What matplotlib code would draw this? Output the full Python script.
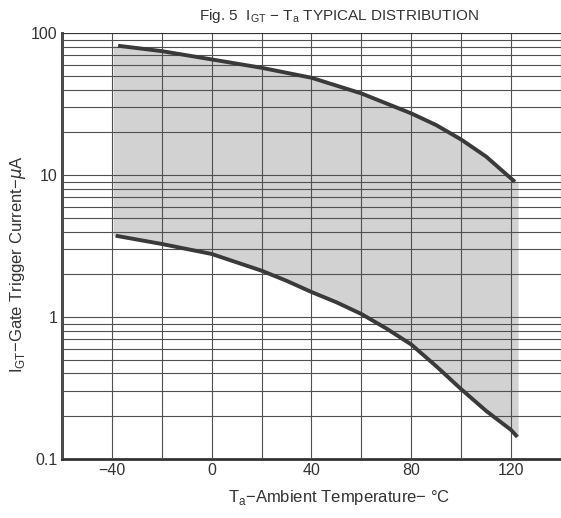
import numpy as np
import matplotlib.pyplot as plt
from matplotlib.ticker import FixedLocator, NullFormatter

plt.rcParams['font.family'] = ['Liberation Sans', 'DejaVu Sans']

# curve readings (deg C, uA)
temp_upper = [-37.5, -20, 0, 20, 40, 60, 80, 90, 100, 110, 121.5]
igt_upper = [81.5, 74.7, 65.3, 57, 48.5, 37.6, 27.2, 22.5, 17.8, 13.5, 8.97]

temp_lower = [-38.5, -20, 0, 20, 30, 40, 50, 60, 70, 80, 90, 100, 110, 120, 122.5]
igt_lower = [3.74, 3.27, 2.78, 2.12, 1.8, 1.5, 1.27, 1.05, 0.83, 0.64, 0.45, 0.31, 0.218, 0.16, 0.143]

x_ticks = [-40, 0, 40, 80, 120]
x_ticklabels = ['\u221240', '0', '40', '80', '120']
y_ticks = [0.1, 1, 10, 100]
y_ticklabels = ['0.1', '1', '10', '100']

fig = plt.figure(figsize=(5.61, 5.18), dpi=100)
ax = fig.add_axes([0.1105, 0.114, 0.8895, 0.822])

# shaded typical distribution band
band_hi = np.interp(temp_lower, temp_upper, igt_upper)
ax.fill_between([-39.5] + temp_lower + [122.8],
                [igt_upper[0]] + list(band_hi[:-1]) + [igt_upper[-1], igt_upper[-1]],
                [igt_lower[0]] + igt_lower + [igt_lower[-1]],
                color='#d2d2d2', lw=0, zorder=1)

ax.plot(temp_upper, igt_upper, color='#3a3a3a', lw=2.8, solid_capstyle='butt', zorder=3)
ax.plot(temp_lower, igt_lower, color='#3a3a3a', lw=2.8, solid_capstyle='butt', zorder=3)

ax.set_yscale('log')
ax.set_xlim(-60, 140)
ax.set_ylim(0.1, 100)

ax.xaxis.set_major_locator(FixedLocator(x_ticks))
ax.set_xticklabels(x_ticklabels)
ax.xaxis.set_minor_locator(FixedLocator(np.arange(-60, 141, 20)))
ax.yaxis.set_major_locator(FixedLocator(y_ticks))
ax.set_yticklabels(y_ticklabels)
minor_y = [m * d for d in (0.1, 1, 10) for m in range(2, 10)]
ax.yaxis.set_minor_locator(FixedLocator(minor_y))
ax.yaxis.set_minor_formatter(NullFormatter())

ax.grid(True, which='both', color='#505050', lw=0.8, zorder=2)
ax.set_axisbelow(False)
ax.tick_params(which='both', length=0, labelsize=11.5, colors='#333333', pad=3)

for side in ('left', 'bottom'):
    ax.spines[side].set_linewidth(2)
    ax.spines[side].set_color('#333333')
for side in ('right', 'top'):
    ax.spines[side].set_visible(False)
ax.axhline(100, color='#333333', lw=1.5, zorder=4)

fig.text(0.605, 0.040, 'T$_\\mathregular{a}$\u2212Ambient Temperature\u2212 \u00b0C',
         ha='center', va='center', fontsize=12, color='#333333')
fig.text(0.032, 0.49, 'I$_\\mathregular{GT}$\u2212Gate Trigger Current\u2212$\\mu$A',
         ha='center', va='center', rotation=90, fontsize=12, color='#333333')
fig.text(0.605, 0.969, 'Fig. 5  I$_\\mathregular{GT}$ \u2212 T$_\\mathregular{a}$ TYPICAL DISTRIBUTION',
         ha='center', va='center', fontsize=11, color='#333333')

fig.savefig('out.png', dpi=100)
